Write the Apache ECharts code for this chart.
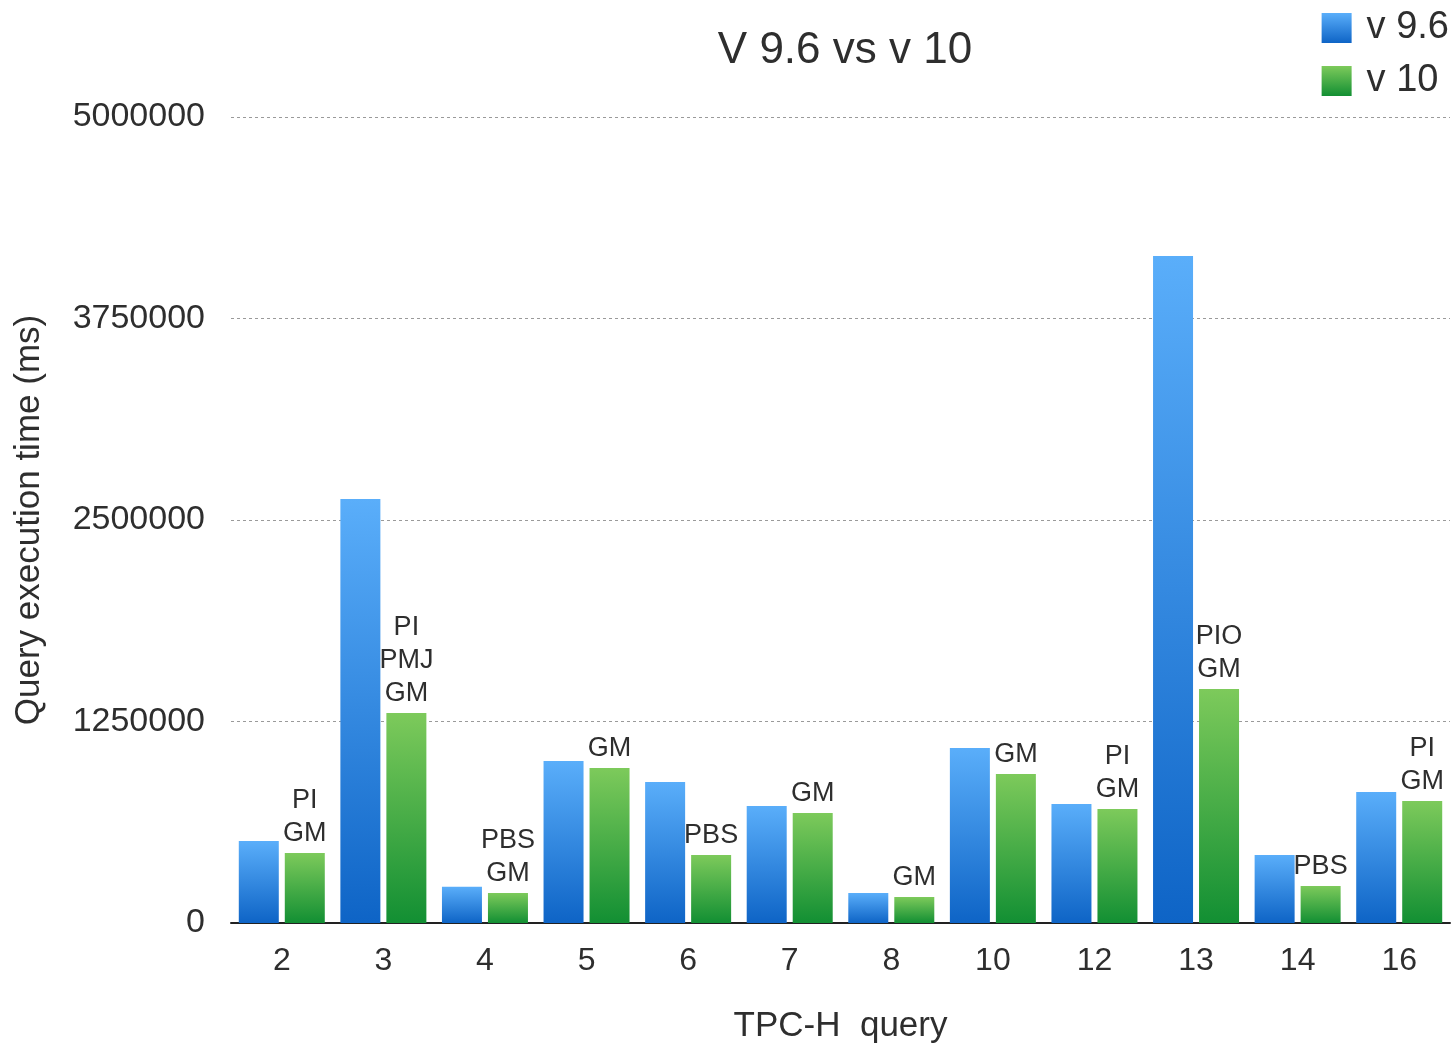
<!DOCTYPE html>
<html>
<head>
<meta charset="utf-8">
<title>V 9.6 vs v 10</title>
<script src="https://cdn.jsdelivr.net/npm/echarts@6/dist/echarts.min.js"></script>
<style>
  html, body { margin: 0; padding: 0; background: #fff; }
  #chart { width: 1453px; height: 1043px; }
</style>
</head>
<body>
<div id="chart"></div>
<script>
// TPC-H queries and their execution times (ms)
const queries = ['2', '3', '4', '5', '6', '7', '8', '10', '12', '13', '14', '16'];
const v96Times = [508000, 2630000, 225000, 1005000, 875000, 726000, 186000, 1086000, 738000, 4138000, 422000, 813000];
const v10Times = [434000, 1303000, 186000, 962000, 422000, 682000, 161000, 924000, 707000, 1452000, 230000, 757000];
// Features used by v 10 for each query
const v10Notes = ['PI\nGM', 'PI\nPMJ\nGM', 'PBS\nGM', 'GM', 'PBS', 'GM', 'GM', 'GM', 'PI\nGM', 'PIO\nGM', 'PBS', 'PI\nGM'];
const yTicks = [0, 1250000, 2500000, 3750000, 5000000];

const FONT = '"Liberation Sans", Helvetica, Arial, sans-serif';
const TEXT = '#2e2e2e';

function vGrad(top, bottom) {
  return new echarts.graphic.LinearGradient(0, 0, 0, 1, [
    { offset: 0, color: top },
    { offset: 1, color: bottom }
  ]);
}

const chart = echarts.init(document.getElementById('chart'), null, { renderer: 'canvas' });

chart.setOption({
  backgroundColor: '#ffffff',
  animation: false,
  title: {
    text: 'V 9.6 vs v 10',
    left: 840,
    textAlign: 'center',
    top: 24,
    textStyle: { fontFamily: FONT, fontSize: 44, fontWeight: 'normal', color: TEXT }
  },
  legend: {
    orient: 'vertical',
    right: 4,
    top: 9,
    padding: 0,
    itemWidth: 30,
    itemHeight: 30,
    itemGap: 15,
    icon: 'rect',
    textStyle: { fontFamily: FONT, fontSize: 38, color: TEXT, padding: [0, 0, 0, 10] },
    data: ['v 9.6', 'v 10']
  },
  grid: { left: 231, right: 3, top: 117, bottom: 120, containLabel: false, outerBoundsMode: 'none' },
  xAxis: {
    type: 'category',
    data: queries,
    name: 'TPC-H  query',
    nameLocation: 'middle',
    nameGap: 86,
    nameTextStyle: { fontFamily: FONT, fontSize: 35, color: TEXT },
    axisLine: { lineStyle: { color: '#222', width: 2 } },
    axisTick: { show: false },
    axisLabel: { fontFamily: FONT, fontSize: 32, color: TEXT, margin: 22 }
  },
  yAxis: {
    type: 'value',
    min: yTicks[0],
    max: yTicks[yTicks.length - 1],
    interval: yTicks[1] - yTicks[0],
    name: 'Query execution time (ms)',
    nameLocation: 'middle',
    nameGap: 184,
    nameRotate: 90,
    nameTextStyle: { fontFamily: FONT, fontSize: 35, color: TEXT },
    axisLine: { show: false },
    axisTick: { show: false },
    axisLabel: {
      fontFamily: FONT, fontSize: 34, color: TEXT, margin: 26,
      formatter: v => String(v)
    },
    splitLine: { lineStyle: { color: '#9a9a9a', type: [3, 3], width: 1 } }
  },
  series: [
    {
      name: 'v 9.6',
      type: 'bar',
      data: v96Times,
      barWidth: 40,
      barGap: '15%',
      itemStyle: { color: vGrad('#5aaefa', '#0e64c6') }
    },
    {
      name: 'v 10',
      type: 'bar',
      data: v10Times,
      barWidth: 40,
      itemStyle: { color: vGrad('#7dca5b', '#128f33') },
      label: {
        show: true,
        position: 'top',
        distance: 3,
        fontFamily: FONT,
        fontSize: 27,
        lineHeight: 33,
        color: TEXT,
        align: 'center',
        formatter: p => v10Notes[p.dataIndex]
      }
    }
  ]
});
</script>
</body>
</html>
